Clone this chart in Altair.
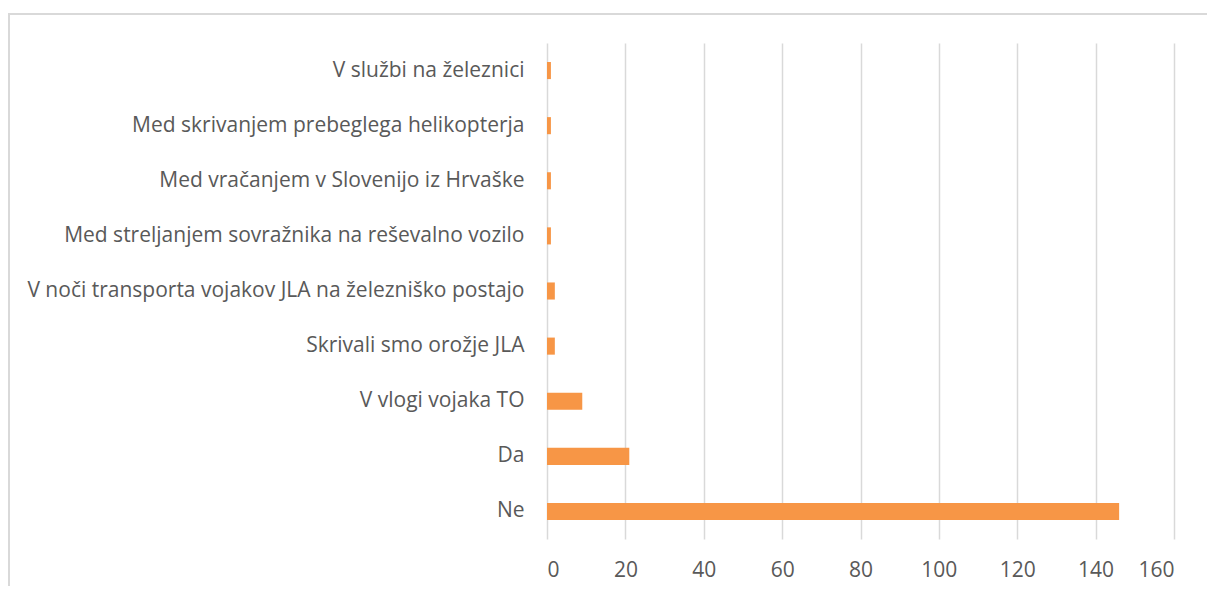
import altair as alt
import pandas as pd

categories = [
    "V službi na železnici",
    "Med skrivanjem prebeglega helikopterja",
    "Med vračanjem v Slovenijo iz Hrvaške ",
    "Med streljanjem sovražnika na reševalno vozilo",
    "V noči transporta vojakov JLA na železniško postajo",
    "Skrivali smo orožje JLA",
    "V vlogi vojaka TO",
    "Da",
    "Ne",
]
values = [1, 1, 1, 1, 2, 2, 9, 21, 146]
x_ticks = [0, 20, 40, 60, 80, 100, 120, 140, 160]

df = pd.DataFrame({"cat": categories, "val": values})

FONT = "Open Sans"
GRID = "#d9d9d9"
TEXT = "#595959"

bars = alt.Chart(df).mark_bar(color="#F79646").encode(
    x=alt.X(
        "val:Q",
        scale=alt.Scale(domain=[0, 160], nice=False),
        axis=alt.Axis(
            values=x_ticks,
            title=None,
            grid=True,
            gridColor=GRID,
            gridWidth=1.5,
            domain=False,
            ticks=False,
            labelPadding=20,
            labelFont=FONT,
            labelFontSize=21,
            labelColor=TEXT,
        ),
    ),
    y=alt.Y(
        "cat:N",
        sort=categories,
        scale=alt.Scale(paddingInner=0.69, paddingOuter=0.345),
        axis=alt.Axis(
            title=None,
            grid=False,
            domain=False,
            ticks=False,
            labelPadding=23,
            labelFont=FONT,
            labelFontSize=21,
            labelColor=TEXT,
            labelLimit=600,
        ),
    ),
)

frame = alt.Chart(df).mark_rect(fill=None, stroke=GRID, strokeWidth=2).encode(
    x=alt.value(-538), x2=alt.value(700), y=alt.value(-29), y2=alt.value(700)
)

chart = (
    alt.layer(frame, bars)
    .properties(
        width=627,
        height=496,
        padding={"left": 539, "top": 35, "right": 33, "bottom": 47},
        autosize=alt.AutoSizeParams(type="none"),
        background="white",
    )
    .configure_view(stroke=None)
)

chart.save("out.html", embed_options={"renderer": "svg", "actions": False})
